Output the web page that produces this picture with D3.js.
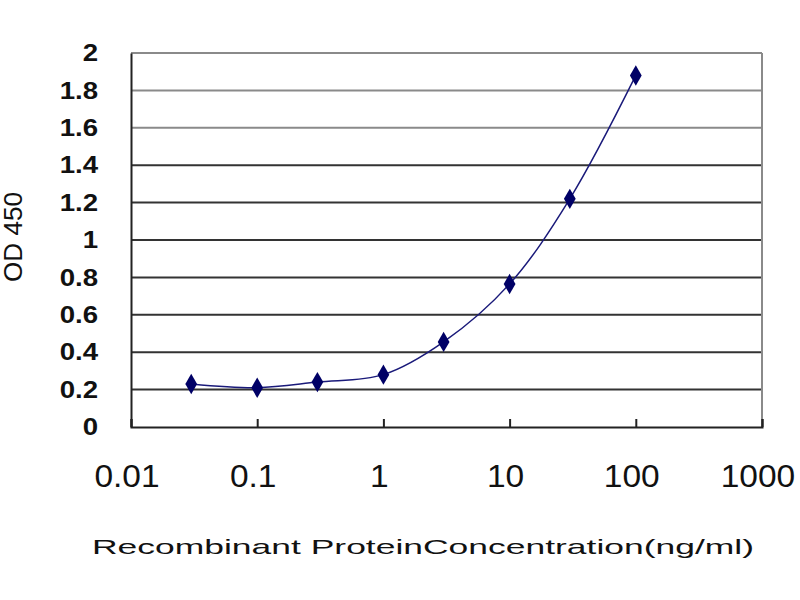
<!DOCTYPE html>
<html>
<head>
<meta charset="utf-8">
<script src="https://cdn.jsdelivr.net/npm/d3@7"></script>
<style>
  body { margin: 0; background: #fff; }
  text { font-family: "Liberation Sans", Arial, sans-serif; fill: #111; }
</style>
</head>
<body>
<div id="chart"></div>
<script>
// concentration (ng/ml) and OD 450 readings
const concentrations = [0.03, 0.1, 0.3, 1, 3, 10, 30, 100];
const odValues = [0.23, 0.21, 0.24, 0.28, 0.455, 0.765, 1.22, 1.88];
const xTicks = [0.01, 0.1, 1, 10, 100, 1000];
const yTicks = [0, 0.2, 0.4, 0.6, 0.8, 1, 1.2, 1.4, 1.6, 1.8, 2];

const width = 800, height = 600;
const margin = { top: 53, right: 38, bottom: 173, left: 131 };
const innerW = width - margin.left - margin.right;
const innerH = height - margin.top - margin.bottom;

const svg = d3.select('#chart').append('svg')
    .attr('width', width)
    .attr('height', height);

const g = svg.append('g')
    .attr('transform', `translate(${margin.left},${margin.top})`);

const x = d3.scaleLog().domain([0.01, 1000]).range([0, innerW]);
const y = d3.scaleLinear().domain([0, 2]).range([innerH, 0]);

// horizontal gridlines
g.selectAll('.grid')
    .data(yTicks.filter(d => d > 0))
    .enter().append('line')
    .attr('class', 'grid')
    .attr('x1', 0)
    .attr('x2', innerW)
    .attr('y1', d => y(d))
    .attr('y2', d => y(d))
    .attr('stroke', d => d >= 1.6 ? '#8a8a8a' : '#333')
    .attr('stroke-width', 2);

// right border
g.append('line')
    .attr('x1', innerW).attr('x2', innerW)
    .attr('y1', 0).attr('y2', innerH)
    .attr('stroke', '#8a8a8a').attr('stroke-width', 2);

// x axis with inward ticks
const xAxisG = g.append('g')
    .attr('transform', `translate(0,${innerH})`)
    .call(d3.axisTop(x).tickValues(xTicks).tickSize(8).tickFormat(''));
xAxisG.select('.domain').attr('stroke', '#222').attr('stroke-width', 2);
xAxisG.selectAll('.tick line').attr('stroke', '#222').attr('stroke-width', 2);

xAxisG.selectAll('.xlab')
    .data(xTicks)
    .enter().append('text')
    .attr('class', 'xlab')
    .attr('x', d => x(d) - 4)
    .attr('y', 60)
    .attr('text-anchor', 'middle')
    .style('font-size', '31px')
    .text(d => d3.format('~g')(d))
    .each(function () {
        const w = this.getComputedTextLength();
        d3.select(this).attr('textLength', w * 1.08).attr('lengthAdjust', 'spacingAndGlyphs');
    });

// y axis
const yAxisG = g.append('g')
    .call(d3.axisLeft(y).tickValues(yTicks).tickSize(0).tickPadding(33).tickFormat(d3.format('~g')));
yAxisG.select('.domain').attr('stroke', '#222').attr('stroke-width', 2);
yAxisG.selectAll('.tick text')
    .style('font-size', '24px')
    .style('font-family', '"Liberation Sans", Arial, sans-serif')
    .style('font-weight', 'bold')
    .attr('fill', '#222')
    .each(function () {
        const w = this.getComputedTextLength();
        d3.select(this).attr('textLength', w * 1.15).attr('lengthAdjust', 'spacingAndGlyphs');
    });

// line and markers
const line = d3.line()
    .x((d, i) => x(concentrations[i]))
    .y(d => y(d))
    .curve(d3.curveCatmullRom);

g.append('path')
    .datum(odValues)
    .attr('fill', 'none')
    .attr('stroke', '#1a1a7a')
    .attr('stroke-width', 1.5)
    .attr('d', line);

g.selectAll('.pt')
    .data(odValues)
    .enter().append('path')
    .attr('class', 'pt')
    .attr('transform', (d, i) => `translate(${x(concentrations[i])},${y(d)})`)
    .attr('d', d3.symbol().type(d3.symbolDiamond).size(120))
    .attr('fill', '#000066');

// axis titles
svg.append('text')
    .attr('transform', 'translate(22,237) rotate(-90)')
    .attr('text-anchor', 'middle')
    .attr('textLength', 90)
    .attr('lengthAdjust', 'spacingAndGlyphs')
    .style('font-size', '25px')
    .text('OD 450');

svg.append('text')
    .attr('x', 92)
    .attr('y', 554)
    .attr('textLength', 662)
    .attr('lengthAdjust', 'spacingAndGlyphs')
    .style('font-size', '21px')
    .text('Recombinant ProteinConcentration(ng/ml)');
</script>
</body>
</html>
